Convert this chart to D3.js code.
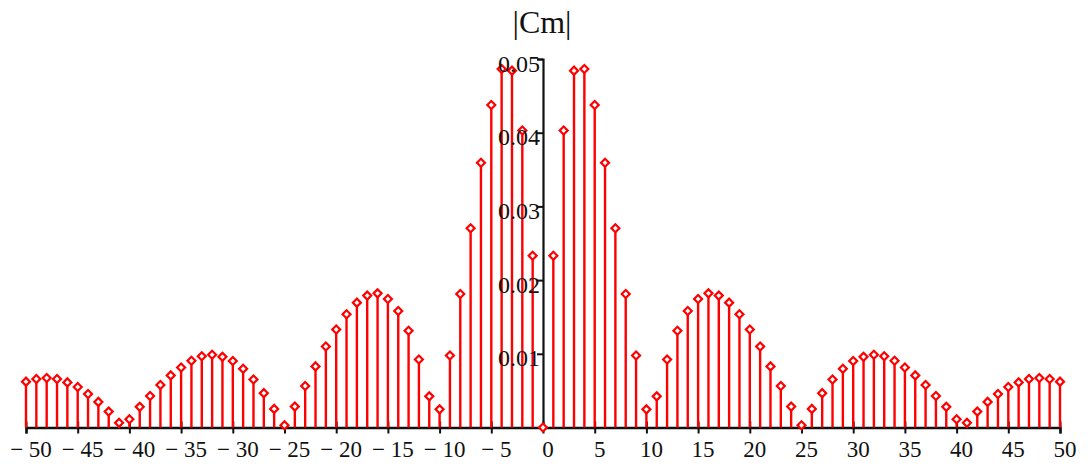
<!DOCTYPE html>
<html>
<head>
<meta charset="utf-8">
<script src="https://cdn.jsdelivr.net/npm/d3@7"></script>
<style>
  body { margin: 0; background: #fff; }
  svg { display: block; font-family: "Liberation Serif", "DejaVu Serif", serif; }
</style>
</head>
<body>
<svg id="chart"></svg>
<script>
// harmonic index m, -50..50
const harmonics = d3.range(-50, 51);

// |Cm|, m = -50 .. 50
const magnitudes = [
  0.00622, 0.00658, 0.00672, 0.00658, 0.00612, 0.00550, 0.00455, 0.00347, 0.00216, 0.00063,
  0.00112, 0.00280, 0.00428, 0.00577, 0.00707, 0.00815, 0.00905, 0.00966, 0.00988, 0.00959,
  0.00903, 0.00797, 0.00651, 0.00466, 0.00252, 0.00030, 0.00284, 0.00563, 0.00829, 0.01099,
  0.01329, 0.01536, 0.01694, 0.01790, 0.01820, 0.01743, 0.01581, 0.01313, 0.00923, 0.00423,
  0.00246, 0.00977, 0.01811, 0.02703, 0.03592, 0.04376, 0.04865, 0.04842, 0.04029, 0.02331,
  0.00000,
  0.02331, 0.04029, 0.04842, 0.04865, 0.04376, 0.03592, 0.02703, 0.01811, 0.00977, 0.00246,
  0.00423, 0.00923, 0.01313, 0.01581, 0.01743, 0.01820, 0.01790, 0.01694, 0.01536, 0.01329,
  0.01099, 0.00829, 0.00563, 0.00284, 0.00030, 0.00252, 0.00466, 0.00651, 0.00797, 0.00903,
  0.00959, 0.00988, 0.00966, 0.00905, 0.00815, 0.00707, 0.00577, 0.00428, 0.00280, 0.00112,
  0.00063, 0.00216, 0.00347, 0.00455, 0.00550, 0.00612, 0.00658, 0.00672, 0.00658, 0.00622
];

const xTicks = d3.range(-50, 51, 5);
const yTicks = [0.01, 0.02, 0.03, 0.04, 0.05];
const title = '|Cm|';

const W = 1088, H = 469;
const svg = d3.select('#chart').attr('width', W).attr('height', H);

const x = d3.scaleLinear().domain([-50, 50]).range([26, 1060]);
const y = d3.scaleLinear().domain([0, 0.05]).range([427.5, 59]);

const ink = '#111';
const red = '#ff0000';
const fmtX = d => d < 0 ? '\u2212 ' + Math.abs(d) : String(d);

// x axis (ticks cross the line)
const gx = svg.append('g')
  .attr('transform', `translate(0,${y(0)})`)
  .call(d3.axisBottom(x).tickValues(xTicks).tickSizeOuter(0).tickSize(6).tickFormat(''));
gx.select('.domain').attr('stroke', ink).attr('stroke-width', 2.4);
gx.selectAll('.tick line').attr('stroke', ink).attr('stroke-width', 2).attr('y1', -6).attr('y2', 6);

svg.append('g').selectAll('text')
  .data(xTicks)
  .join('text')
  .attr('x', d => x(d) + 5).attr('y', y(0) + 29)
  .attr('text-anchor', 'middle')
  .style('font-size', '23px').attr('fill', ink)
  .text(fmtX);

// y axis through m = 0
const gy = svg.append('g')
  .attr('transform', `translate(${x(0)},0)`)
  .call(d3.axisLeft(y).tickValues(yTicks).tickSizeOuter(0).tickSize(6).tickFormat(''));
gy.select('.domain').attr('stroke', ink).attr('stroke-width', 2.2);
gy.selectAll('.tick line').attr('stroke', ink).attr('stroke-width', 2);

// stems
svg.append('g').selectAll('line')
  .data(harmonics)
  .join('line')
  .attr('x1', (d) => x(d)).attr('x2', (d) => x(d))
  .attr('y1', y(0)).attr('y2', (d, i) => y(magnitudes[i]))
  .attr('stroke', red).attr('stroke-width', 2.4);

// diamond markers
const diamond = d3.symbol().type(d3.symbolSquare).size(32);
svg.append('g').selectAll('path')
  .data(harmonics)
  .join('path')
  .attr('d', diamond)
  .attr('transform', (d, i) => `translate(${x(d)},${y(magnitudes[i])}) rotate(45)`)
  .attr('fill', '#fff').attr('stroke', red).attr('stroke-width', 2.2);

// y tick labels drawn over the stems
svg.append('g').selectAll('text')
  .data(yTicks)
  .join('text')
  .attr('x', x(0) - 3).attr('y', d => y(d) + 12.5)
  .attr('text-anchor', 'end')
  .style('font-size', '24px').attr('fill', ink)
  .text(d3.format('.2f'));

// title
svg.append('text')
  .attr('x', x(0) - 1).attr('y', 33)
  .attr('text-anchor', 'middle')
  .style('font-size', '32px').attr('fill', ink)
  .text(title);
</script>
</body>
</html>
